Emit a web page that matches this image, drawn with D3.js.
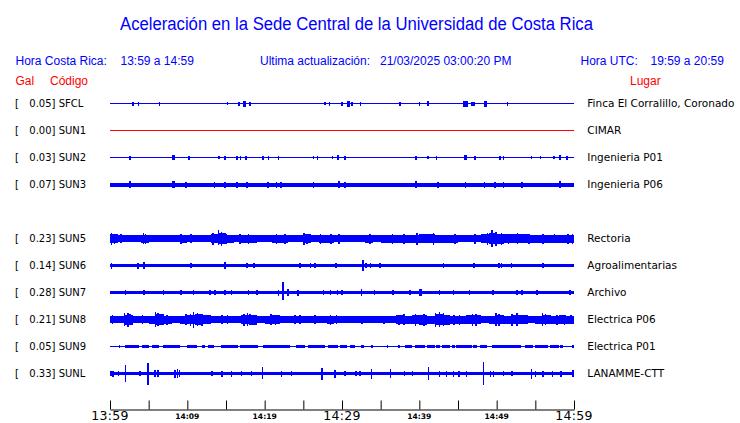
<!DOCTYPE html>
<html><head><meta charset="utf-8">
<script src="https://cdn.jsdelivr.net/npm/d3@7"></script>
<style>body{margin:0;background:#fff} svg{display:block}</style>
</head><body><svg id="c" width="740" height="423"></svg>
<script>
// ---------- DATA ----------
const rowOrder = ["SFCL","SUN1","SUN2","SUN3","","SUN5","SUN6","SUN7","SUN8","SUN9","SUNL"];
const codes = ["SFCL","SUN1","SUN2","SUN3","SUN5","SUN6","SUN7","SUN8","SUN9","SUNL"];
const peakGal = [0.05,0.00,0.03,0.07,0.23,0.14,0.28,0.21,0.05,0.33];
const places = ["Finca El Corralillo, Coronado","CIMAR","Ingenieria P01","Ingenieria P06","Rectoria","Agroalimentarias","Archivo","Electrica P06","Electrica P01","LANAMME-CTT"];
// background noise half-amplitude (relative units)
const noiseLevel = [0.5,0.5,0.5,2,3.3,1.5,1.5,3,0.5,1.8];

// per-minute envelopes (relative units), minutes 0..59 after 13:59
const sun5Env = [4.5,3.5,3.3,3.3,4,3.5,3.3,3.5,3.5,4, 3.5,3.3,3.5,4.5,5.5,4,3.5,4,4,3.5, 3.5,4,4,3.5,3.5,4.5,3.5,4,4,3.5, 3.5,3.5,3.5,4,3.5,4,4,4,4,4, 4.5,4.5,4,4,4,3.5,3.5,3.5,4.5,5.5, 5,4.5,4.5,4.5,4,4,4,4,4,4];
const sun8Env = [3.5,3.2,5,3.5,3.5,4,5.5,4,3.2,4, 4.5,5.5,4.5,3.2,3.5,3.5,3.2,4.5,5,3.5, 4,4.5,3.5,3.2,3.5,3.5,3.2,3.5,4,3.5, 3.2,3.2,3.2,3.2,3.2,3.5,3.5,4.5,4,4.5, 5,4,5.5,5,4,4,4.5,4.5,3.5,4, 4.5,4,4.5,4.5,3.5,4,4.5,4,4.5,4];

// spikes: [minute, up, down, widthMinutes]
const sfclSpikes = [[3.0,2],[3.7,2],[6.4,2],[15.2,1.5],[16.7,2],[17.4,3,3,0.45],[18.1,2],[27.8,1.5],[28.4,2],[30.0,2],[30.8,3,3,0.4],[31.3,2],[32.4,2],[37.5,2],[40.0,2],[41.1,2.5,2.5,0.2],[46.0,3,3,0.6],[46.8,2],[47.1,2],[48.6,3,3,0.4],[51.4,2]];
const sun1Spikes = [];
const sun2Spikes = [[2.6,2],[8.2,2.5,2.5,0.4],[10.2,2],[14.1,1.5],[14.9,2,2,0.2],[16.4,2],[16.9,2],[17.6,2],[19.8,2],[20.5,2],[21.8,2],[26.3,1.5],[26.8,2],[28.8,1.5],[29.5,2.5,2.5,0.3],[30.4,2],[39.6,2],[41.1,1.5],[42.2,2],[46.0,2.5,2.5,0.4],[47.2,2],[50.4,2],[50.9,2],[54.5,1.5],[55.7,1.5],[57.4,1.5],[58.2,2.5,2.5,0.2],[59.1,2]];
const sun3Spikes = [[2.6,3.5],[8.2,3.5,3.5,0.4],[9.8,3],[13.5,3],[14.9,3],[16.4,3],[17.7,3],[20.4,3],[21.5,3],[22.1,3],[26.3,3],[29.6,3.5,3.5,0.3],[30.4,3],[39.6,3.5,3.5,0.2],[42.4,3],[46.0,3],[48.4,3],[49.8,3],[50.9,3],[53.3,3],[58.2,3.5,3.5,0.3]];
const sun5Spikes = [[0.2,6,6],[0.6,5],[1.4,4.5],[4.3,5.5],[4.6,5],[9.2,5],[10.5,4.5],[13.3,6],[14.0,8.5,6.5],[14.4,7],[15.0,5],[16.8,5],[17.9,5],[21.5,5],[22.6,5],[25.1,6],[25.5,5],[27.2,5],[28.6,5],[29.6,5],[33.6,5],[36.5,5],[38.0,5],[39.7,6],[41.8,6],[44.6,5],[47.2,5],[48.8,6],[49.4,8.5,8.5],[49.9,7],[50.6,6],[51.5,5],[52.7,5.5],[54.2,5],[56.0,5],[57.5,4.5],[59.2,5],[59.8,5]];
const sun6Spikes = [[0.2,3],[3.6,3],[4.4,3.8,3],[10.5,2.5],[14.9,3.3],[17.7,2.3],[18.6,2.3],[24.6,2.3],[25.9,2.8],[26.5,2.8],[29.2,2.5],[32.7,5.5,5],[33.1,2.5],[33.7,2.5],[34.9,2.3],[43.1,2.3],[47.1,2.3],[50.3,2.8],[50.6,2.8],[51.9,2.3],[56.0,2.8]];
const sun7Spikes = [[2.0,2.5],[4.4,2.3],[6.9,2.5],[9.2,2.5],[10.8,2.3],[12.9,2.3],[13.6,2.3],[14.9,2.5],[15.7,2.3],[17.9,2.3],[19.0,2.3],[21.8,3],[22.4,10.5,7,0.3],[23.0,3.5],[24.3,3],[27.6,2.5],[28.5,2.5],[29.4,2.5],[30.0,2.5],[32.5,3.3],[34.2,2.8],[36.6,2.8],[38.8,2.3],[40.2,3.3,3.3,0.4],[42.6,2.8],[44.4,2.3],[46.5,2.3],[49.5,2.8],[52.6,2.8],[53.3,2.8],[55.2,2.8],[59.5,2.8]];
const sun8Spikes = [[0.3,4.5],[1.9,6.5],[2.3,7],[2.6,5.5],[4.2,4.5],[5.9,7.5],[6.2,6.5],[7.4,5],[9.8,5.5],[10.4,6],[10.8,8],[11.3,6.5],[11.9,6],[14.5,4.5],[15.2,4.5],[17.3,6],[17.8,6.5],[18.1,5.5],[20.8,5.5],[21.4,5],[23.9,4.5],[24.6,4.5],[26.5,4.5],[28.5,5],[29.3,4.5],[32.6,4],[35.4,4],[37.4,5],[38.0,5.5],[39.5,6],[40.6,6],[42.1,7],[42.6,7.5],[43.1,6.5],[44.5,5],[45.2,5],[46.9,6],[47.3,6],[49.9,6.5],[50.3,6],[52.0,6],[52.6,6.5],[54.0,4.5],[55.9,6.5],[56.3,5.5],[57.8,5],[58.8,5],[59.6,4.5]];
const sun9Spikes = [];
const sunlSpikes = [[0.1,2.8],[0.4,3],[1.1,2.5],[2.0,8.3,8.3,0.15],[3.9,2.8],[4.9,11,11.5,0.2],[5.8,3.3],[6.2,3.5],[8.4,4],[8.7,4.5],[9.0,3.5],[13.2,2.5],[14.5,3],[15.7,3],[17.0,2.5],[18.3,2.5],[19.7,6.5,5.5,0.15],[22.2,3],[23.5,2.5],[27.4,6,6,0.3],[29.1,4],[30.4,2.5],[31.8,2.5],[32.3,2.5],[33.8,5],[36.3,4.5],[38.1,2.5],[39.1,2.5],[41.2,6.3,6.3,0.15],[42.6,3],[43.5,3],[44.4,3],[45.1,3],[46.1,3],[48.3,11.7,11.7,0.15],[49.2,3],[49.6,3],[50.9,2.5],[52.0,2.5],[54.5,5,5,0.2],[55.0,3],[56.0,3],[57.2,3],[58.3,3],[59.9,3.5]];
// SUN9 intermittent noisier segments [startMin, endMin]
const sun9Segments = [[1.1,1.3],[2.0,3.7],[4.2,5.0],[5.4,6.3],[6.9,9.1],[9.9,11.2],[11.9,12.3],[12.7,13.4],[14.4,16.6],[16.8,19.2],[19.8,23.3],[24.1,25.2],[25.6,27.8],[28.2,29.5],[29.7,30.6],[31.0,31.7],[32.5,32.8],[33.8,34.0],[35.8,36.0],[37.3,37.5],[38.1,39.0],[39.4,40.7],[41.0,42.0],[42.2,42.7],[42.9,44.0],[44.2,44.6],[44.8,46.8],[47.0,47.4],[47.8,48.7],[49.4,53.2],[53.7,54.7],[54.9,56.7],[56.9,58.0],[58.2,58.6],[59.7,60]];
const sun9SegLevel = 1.3;

const envelopes = {SUN5: sun5Env, SUN8: sun8Env};
const spikes = {SFCL:sfclSpikes,SUN1:sun1Spikes,SUN2:sun2Spikes,SUN3:sun3Spikes,SUN5:sun5Spikes,SUN6:sun6Spikes,SUN7:sun7Spikes,SUN8:sun8Spikes,SUN9:sun9Spikes,SUNL:sunlSpikes};

const tickMinutes = [0,5,10,15,20,25,30,35,40,45,50,55,60];
const labelMinutes = [0,10,20,30,40,50,60];
const bigLabelMinutes = [0,30,60];

// ---------- DRAW ----------
const svg = d3.select("#c");
const BLUE = "#0000ff", RED = "#ff0000";
const t0 = new Date(2025,2,21,13,59), t1 = new Date(2025,2,21,14,59);
const tm = m => new Date(t0.getTime() + m*60000);
const x = d3.scaleTime().domain([t0,t1]).range([110,574]);
const y = d3.scalePoint().domain(rowOrder).range([103.5,373.5]);
const amp = d3.scaleLinear().domain([-13.5,13.5]).range([13.5,-13.5]);

// Title
svg.append("text").attr("x",120).attr("y",30)
  .attr("font-family","'Liberation Sans', Arial, sans-serif").attr("font-size",18)
  .attr("fill",BLUE).attr("textLength",473).attr("lengthAdjust","spacingAndGlyphs")
  .text("Aceleración en la Sede Central de la Universidad de Costa Rica");

const hdr = [
  {x:15.5,y:65,t:"Hora Costa Rica:",c:BLUE},
  {x:120.5,y:65,t:"13:59 a 14:59",c:BLUE},
  {x:260,y:65,t:"Ultima actualización:",c:BLUE},
  {x:380,y:65,t:"21/03/2025 03:00:20 PM",c:BLUE},
  {x:580.5,y:65,t:"Hora UTC:",c:BLUE},
  {x:650.5,y:65,t:"19:59 a 20:59",c:BLUE},
  {x:15.5,y:85,t:"Gal",c:RED},
  {x:50,y:85,t:"Código",c:RED},
  {x:630,y:85,t:"Lugar",c:RED}
];
svg.append("g").selectAll("text").data(hdr).join("text")
  .attr("x",d=>d.x).attr("y",d=>d.y).attr("fill",d=>d.c)
  .attr("font-family","'Liberation Sans', Arial, sans-serif").attr("font-size",12)
  .text(d=>d.t);

const area = d3.area().curve(d3.curveStepAfter)
  .x(d=>x(tm(d.m))).y0(d=>amp(-d.v)).y1(d=>amp(d.v));

codes.forEach((code,i)=>{
  const g = svg.append("g").attr("transform",`translate(0,${y(code)})`);
  const col = peakGal[i] === 0 ? RED : BLUE;
  const lab = g.append("g").attr("font-family","'DejaVu Sans', sans-serif").attr("font-size",10).attr("fill","#000");
  lab.append("text").attr("x",15).attr("y",3.5).text("[");
  lab.append("text").attr("x",55.5).attr("y",3.5).attr("text-anchor","end").text(peakGal[i].toFixed(2)+"]");
  lab.append("text").attr("x",58.7).attr("y",3.5).text(code);
  lab.append("text").attr("x",587.3).attr("y",3.5).attr("font-size",10.5).text(places[i]);

  const tr = g.append("g").attr("fill",col).attr("shape-rendering","crispEdges");
  const env = envelopes[code] || d3.range(60).map(()=>noiseLevel[i]);
  const pts = env.map((v,m)=>({m,v})).concat([{m:60,v:env[59]}]);
  tr.append("path").attr("d",area(pts));
  if (code === "SUN9") {
    tr.selectAll("rect.seg").data(sun9Segments).join("rect").attr("class","seg")
      .attr("x",d=>x(tm(d[0]))).attr("width",d=>Math.max(1,x(tm(d[1]))-x(tm(d[0]))))
      .attr("y",amp(sun9SegLevel)).attr("height",amp(-sun9SegLevel)-amp(sun9SegLevel));
  }
  tr.selectAll("rect.sp").data(spikes[code]).join("rect").attr("class","sp")
    .attr("x",d=>{const w=Math.max(1.5,(d[3]||0)*(x(tm(1))-x(tm(0)))); return x(tm(d[0]))-w/2;})
    .attr("width",d=>Math.max(1.5,(d[3]||0)*(x(tm(1))-x(tm(0)))))
    .attr("y",d=>amp(d[1]))
    .attr("height",d=>amp(-(d[2]===undefined?d[1]:d[2]))-amp(d[1]));
});

// Time axis
const ax = svg.append("g").attr("transform","translate(0,409.5)")
  .call(d3.axisTop(x).tickValues(tickMinutes.map(tm)).tickSize(9).tickSizeOuter(0).tickFormat(""));
ax.select(".domain").attr("stroke","#000");
ax.selectAll(".tick line").attr("stroke","#000");
svg.append("g").selectAll("text").data(labelMinutes).join("text")
  .attr("x",m=>x(tm(m))).attr("text-anchor","middle")
  .attr("y",m=>bigLabelMinutes.includes(m)?420:418.5)
  .attr("font-family","'DejaVu Sans', sans-serif")
  .attr("font-size",m=>bigLabelMinutes.includes(m)?12.5:7.6)
  .attr("font-weight",m=>bigLabelMinutes.includes(m)?"normal":"bold")
  .attr("letter-spacing",m=>bigLabelMinutes.includes(m)?"0.3":"0")
  .attr("fill","#000")
  .text(m=>d3.timeFormat("%H:%M")(tm(m)));
</script></body></html>
